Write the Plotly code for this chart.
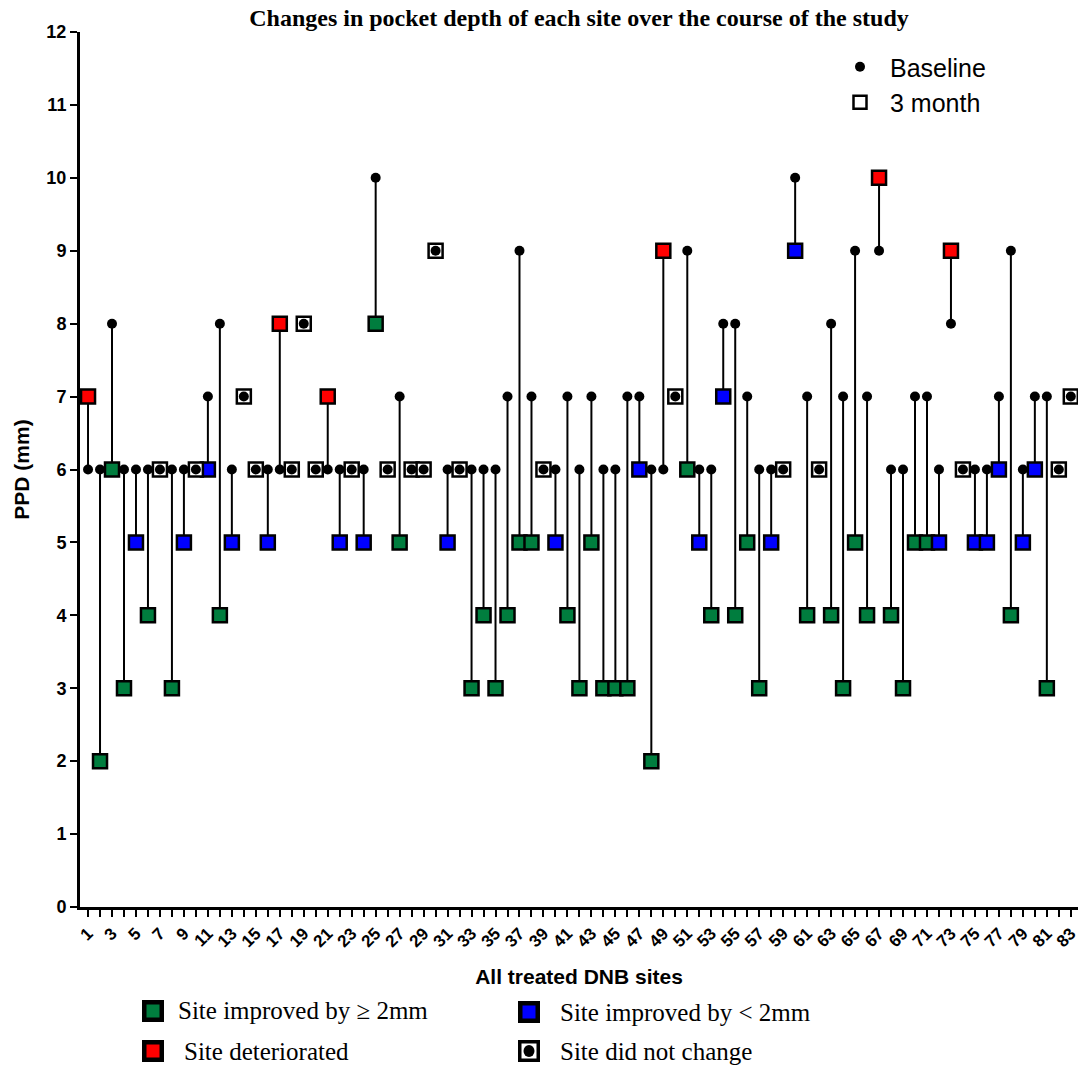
import plotly.graph_objects as go

# ---------------- data ----------------
sites = list(range(1, 84))
baseline = [6, 6, 8, 6, 6, 6, 6, 6, 6, 6,
            7, 8, 6, 7, 6, 6, 6, 6, 8, 6,
            6, 6, 6, 6, 10, 6, 7, 6, 6, 9,
            6, 6, 6, 6, 6, 7, 9, 7, 6, 6,
            7, 6, 7, 6, 6, 7, 7, 6, 6, 7,
            9, 6, 6, 8, 8, 7, 6, 6, 6, 10,
            7, 6, 8, 7, 9, 7, 9, 6, 6, 7,
            7, 6, 8, 6, 6, 6, 7, 9, 6, 7,
            7, 6, 7]
month3 = [7, 2, 6, 3, 5, 4, 6, 3, 5, 6,
          6, 4, 5, 7, 6, 5, 8, 6, 8, 6,
          7, 5, 6, 5, 8, 6, 5, 6, 6, 9,
          5, 6, 3, 4, 3, 4, 5, 5, 6, 5,
          4, 3, 5, 3, 3, 3, 6, 2, 9, 7,
          6, 5, 4, 7, 4, 5, 3, 5, 6, 9,
          4, 6, 4, 3, 5, 4, 10, 4, 3, 5,
          5, 5, 9, 6, 5, 5, 6, 4, 5, 6,
          3, 6, 7]
y_ticks = list(range(0, 13))
x_tick_labels = [str(s) if s % 2 == 1 else "" for s in sites]

categories = ["Site improved by \u2265 2mm", "Site improved by < 2mm",
              "Site deteriorated", "Site did not change"]
cat_colors = ["#007D3E", "#0000FF", "#FF0000", "#FFFFFF"]


def category(b, m):
    d = m - b
    if d > 0:
        return 2
    if d == 0:
        return 3
    if d == -1:
        return 1
    return 0


cats = [category(b, m) for b, m in zip(baseline, month3)]

fig = go.Figure()

# connecting lines
lx, ly = [], []
for s, b, m in zip(sites, baseline, month3):
    if b != m:
        lx += [s, s, None]
        ly += [b, m, None]
fig.add_trace(go.Scatter(x=lx, y=ly, mode="lines",
                         line=dict(color="black", width=2),
                         hoverinfo="skip", showlegend=False))

# 3-month squares by category
for ci, (cname, ccol) in enumerate(zip(categories, cat_colors)):
    xs = [s for s, c in zip(sites, cats) if c == ci]
    ys = [m for m, c in zip(month3, cats) if c == ci]
    fig.add_trace(go.Scatter(
        x=xs, y=ys, mode="markers", name=cname, showlegend=False,
        marker=dict(symbol="square", size=14, color=ccol,
                    line=dict(color="black", width=2.5))))

# baseline dots
fig.add_trace(go.Scatter(
    x=sites, y=baseline, mode="markers", name="Baseline",
    marker=dict(symbol="circle", size=10, color="black",
                line=dict(width=0))))

# legend-only entry for 3 month
fig.add_trace(go.Scatter(
    x=[None], y=[None], mode="markers", name="3 month",
    marker=dict(symbol="square", size=13, color="white",
                line=dict(color="black", width=2.5))))

# ---------------- layout helpers ----------------
L, R, T, B = 80, 1078, 32, 907
W, H = R - L, B - T


def px(xp):
    return (xp - L) / W


def py(yp):
    return (B - yp) / H


shapes = []
annotations = []

# bottom category legend (manual)
leg_items = [
    (0, 153, 1011, 176),
    (1, 529, 1012, 558),
    (2, 153, 1051, 182),
    (3, 529, 1051, 558),
]
for ci, cx, cy, tx in leg_items:
    half = 11
    shapes.append(dict(type="rect", xref="paper", yref="paper",
                       x0=px(cx - half), x1=px(cx + half),
                       y0=py(cy + half), y1=py(cy - half),
                       fillcolor="black", line=dict(width=0)))
    inner = 6.5 if ci != 3 else 7.5
    shapes.append(dict(type="rect", xref="paper", yref="paper",
                       x0=px(cx - inner), x1=px(cx + inner),
                       y0=py(cy + inner), y1=py(cy - inner),
                       fillcolor=cat_colors[ci], line=dict(width=0)))
    if ci == 3:
        shapes.append(dict(type="circle", xref="paper", yref="paper",
                           x0=px(cx - 5.5), x1=px(cx + 5.5),
                           y0=py(cy + 6), y1=py(cy - 6),
                           fillcolor="black", line=dict(width=0)))
    annotations.append(dict(
        text=categories[ci], xref="paper", yref="paper",
        x=px(tx), y=py(cy), xanchor="left", yanchor="middle",
        showarrow=False,
        font=dict(family="Liberation Serif", size=25, color="black")))

fig.update_layout(
    width=1082, height=1070,
    margin=dict(l=L, r=1082 - R, t=T, b=1070 - B),
    paper_bgcolor="white", plot_bgcolor="white",
    title=dict(text="Changes in pocket depth of each site over the course of the study",
               x=0.5, xref="paper", y=1 - 18 / 1070, yref="container",
               xanchor="center", yanchor="middle",
               font=dict(family="Liberation Serif", size=24, color="black",
                         weight="bold")),
    xaxis=dict(range=[0.33, 83.6], tickmode="array", tickvals=sites,
               ticktext=x_tick_labels, tickangle=-45, automargin=False,
               ticklabeloverflow="allow",
               ticks="outside", ticklen=7, tickwidth=2, tickcolor="black",
               showline=True, linewidth=3, linecolor="black",
               showgrid=False, zeroline=False,
               tickfont=dict(family="Liberation Sans", size=17, color="black",
                             weight="bold"),
               title=dict(text="All treated DNB sites", standoff=20,
                          font=dict(family="Liberation Sans", size=21,
                                    color="black", weight="bold"))),
    yaxis=dict(range=[0, 12], tickmode="array", tickvals=y_ticks,
               automargin=False,
               ticks="outside", ticklen=7, tickwidth=2, tickcolor="black",
               showline=True, linewidth=3, linecolor="black",
               showgrid=False, zeroline=False,
               tickfont=dict(family="Liberation Sans", size=18, color="black",
                             weight="bold"),
               title=dict(text="PPD (mm)", standoff=12,
                          font=dict(family="Liberation Sans", size=21,
                                    color="black", weight="bold"))),
    legend=dict(x=px(830), y=py(44), xanchor="left", yanchor="top",
                bgcolor="rgba(0,0,0,0)",
                font=dict(family="Liberation Sans", size=25, color="black"),
                itemwidth=50, tracegroupgap=0),
    shapes=shapes,
    annotations=annotations,
    showlegend=True,
)

# remove the default page margin so the figure sits at the window's top-left
fig.write_html(
    "out.html",
    config={"displayModeBar": False},
    post_script="document.body.style.margin='0';"
                "document.documentElement.style.overflow='hidden';",
)
